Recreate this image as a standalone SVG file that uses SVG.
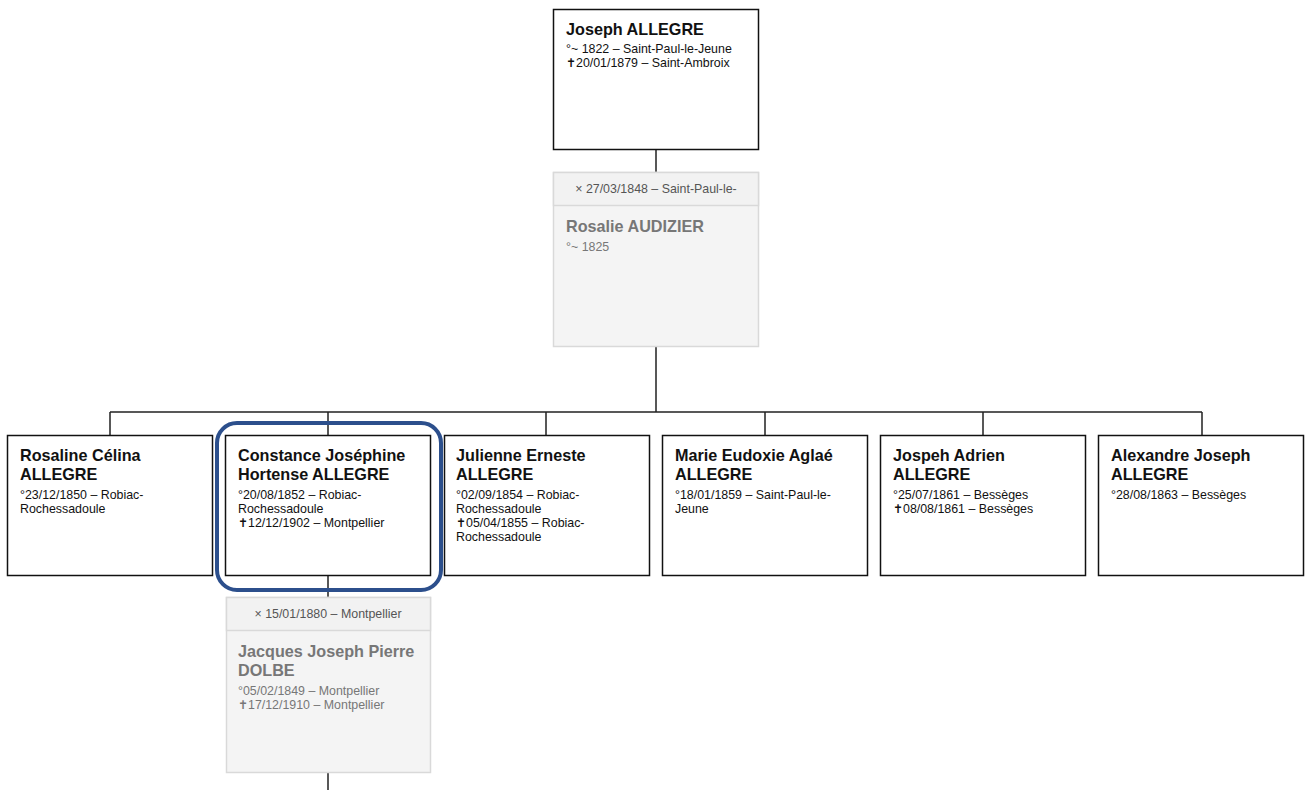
<svg xmlns="http://www.w3.org/2000/svg" width="1309" height="790" viewBox="0 0 1309 790">
<style>
.box{fill:#fff;stroke:#111;stroke-width:1.5}
.sp{fill:#f4f4f4;stroke:#d9d9d9;stroke-width:1.5}
.sph{fill:#f2f2f2;stroke:#d9d9d9;stroke-width:1.5}
.nm{font-family:"Liberation Sans",Arial,sans-serif;font-weight:bold;font-size:16.2px;fill:#111}
.dt{font-family:"Liberation Sans",Arial,sans-serif;font-size:12.4px;fill:#111}
.snm{font-family:"Liberation Sans",Arial,sans-serif;font-weight:bold;font-size:16.2px;fill:#777}
.sdt{font-family:"Liberation Sans",Arial,sans-serif;font-size:12.4px;fill:#777}
.hd{font-family:"Liberation Sans",Arial,sans-serif;font-size:12.4px;fill:#555;text-anchor:middle}
.ln{fill:none;stroke:#222;stroke-width:1.5}
</style>
<g id="connectors">
<path class="ln" d="M656 150V172M656 347V412M110 412H1202M110 412V435M328 412V435M546 412V435M765 412V435M983 412V435M1202 412V435M328 575V597M328 773V790"/>
</g>
<g id="joseph">
<rect class="box" x="553.5" y="9.5" width="205" height="140"/>
<text class="nm" x="566" y="35">Joseph ALLEGRE</text>
<text class="dt" x="566" y="53">°~ 1822 – Saint-Paul-le-Jeune</text>
<text class="dt" x="566" y="67">✝20/01/1879 – Saint-Ambroix</text>
</g>
<g id="rosalie">
<rect class="sp" x="553.5" y="172.5" width="205" height="174"/>
<rect class="sph" x="553.5" y="172.5" width="205" height="33"/>
<text class="hd" x="656" y="193">× 27/03/1848 – Saint-Paul-le-</text>
<text class="snm" x="566" y="232">Rosalie AUDIZIER</text>
<text class="sdt" x="566" y="251">°~ 1825</text>
</g>
<g id="rosaline">
<rect class="box" x="7.5" y="435.5" width="205" height="140"/>
<text class="nm" x="20" y="461">Rosaline Célina</text>
<text class="nm" x="20" y="480">ALLEGRE</text>
<text class="dt" x="20" y="499">°23/12/1850 – Robiac-</text>
<text class="dt" x="20" y="513">Rochessadoule</text>
</g>
<g id="constance">
<rect class="box" x="225.5" y="435.5" width="205" height="140"/>
<text class="nm" x="238" y="461">Constance Joséphine</text>
<text class="nm" x="238" y="480">Hortense ALLEGRE</text>
<text class="dt" x="238" y="499">°20/08/1852 – Robiac-</text>
<text class="dt" x="238" y="513">Rochessadoule</text>
<text class="dt" x="238" y="527">✝12/12/1902 – Montpellier</text>
<rect x="217" y="423" width="224" height="167" rx="20" fill="none" stroke="#2c4f8c" stroke-width="4"/>
</g>
<g id="julienne">
<rect class="box" x="444.5" y="435.5" width="205" height="140"/>
<text class="nm" x="456" y="461">Julienne Erneste</text>
<text class="nm" x="456" y="480">ALLEGRE</text>
<text class="dt" x="456" y="499">°02/09/1854 – Robiac-</text>
<text class="dt" x="456" y="513">Rochessadoule</text>
<text class="dt" x="456" y="527">✝05/04/1855 – Robiac-</text>
<text class="dt" x="456" y="541">Rochessadoule</text>
</g>
<g id="marie">
<rect class="box" x="662.5" y="435.5" width="205" height="140"/>
<text class="nm" x="675" y="461">Marie Eudoxie Aglaé</text>
<text class="nm" x="675" y="480">ALLEGRE</text>
<text class="dt" x="675" y="499">°18/01/1859 – Saint-Paul-le-</text>
<text class="dt" x="675" y="513">Jeune</text>
</g>
<g id="jospeh">
<rect class="box" x="880.5" y="435.5" width="205" height="140"/>
<text class="nm" x="893" y="461">Jospeh Adrien</text>
<text class="nm" x="893" y="480">ALLEGRE</text>
<text class="dt" x="893" y="499">°25/07/1861 – Bessèges</text>
<text class="dt" x="893" y="513">✝08/08/1861 – Bessèges</text>
</g>
<g id="alexandre">
<rect class="box" x="1098.5" y="435.5" width="205" height="140"/>
<text class="nm" x="1111" y="461">Alexandre Joseph</text>
<text class="nm" x="1111" y="480">ALLEGRE</text>
<text class="dt" x="1111" y="499">°28/08/1863 – Bessèges</text>
</g>
<g id="jacques">
<rect class="sp" x="226.5" y="597.5" width="204" height="175"/>
<rect class="sph" x="226.5" y="597.5" width="204" height="33"/>
<text class="hd" x="328" y="618">× 15/01/1880 – Montpellier</text>
<text class="snm" x="238" y="657">Jacques Joseph Pierre</text>
<text class="snm" x="238" y="676">DOLBE</text>
<text class="sdt" x="238" y="695">°05/02/1849 – Montpellier</text>
<text class="sdt" x="238" y="709">✝17/12/1910 – Montpellier</text>
</g>
</svg>
